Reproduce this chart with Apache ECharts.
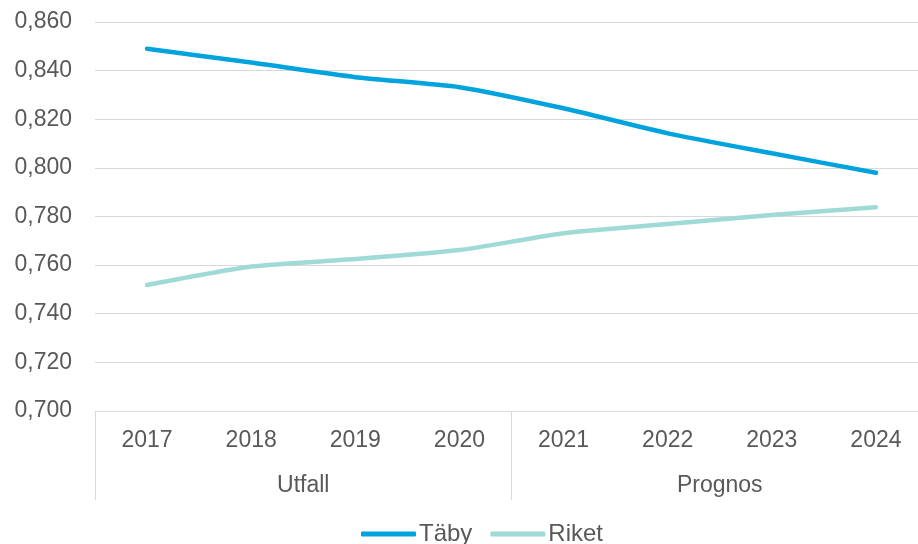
<!DOCTYPE html>
<html>
<head>
<meta charset="utf-8">
<script src="https://cdn.jsdelivr.net/npm/echarts@6/dist/echarts.min.js"></script>
<style>
  html, body { margin: 0; padding: 0; background: #fff; }
  #chart { width: 918px; height: 544px; }
</style>
</head>
<body>
<div id="chart"></div>
<script>
// år på x-axeln
const years = ['2017', '2018', '2019', '2020', '2021', '2022', '2023', '2024']
// grupper under åren
const groups = ['Utfall', 'Prognos']
const tabyValues = [0.849, 0.8433, 0.8373, 0.8332, 0.8245, 0.8142, 0.806, 0.798]
const riketValues = [0.7518, 0.7594, 0.7625, 0.7662, 0.7731, 0.7769, 0.7806, 0.7838]

const textColor = '#595959'
const lineGrey = '#d9d9d9'
const font = 'Liberation Sans, Arial, sans-serif'

const chart = echarts.init(document.getElementById('chart'))
const option = {
  animation: false,
  textStyle: { fontFamily: font },
  grid: {
    left: 95,
    top: 22,
    width: 833,
    height: 389,
    outerBoundsMode: 'none',
    containLabel: false,
  },
  legend: {
    top: 517,
    left: 356,
    icon: 'roundRect',
    itemWidth: 55,
    itemHeight: 5,
    itemGap: 18,
    textStyle: { fontSize: 24, color: textColor, fontFamily: font, padding: [0, 0, 0, -2] },
    data: ['Täby', 'Riket'],
  },
  xAxis: [
    {
      type: 'category',
      position: 'bottom',
      data: years,
      boundaryGap: true,
      axisLine: { show: true, lineStyle: { color: lineGrey, width: 1 } },
      axisTick: { show: false },
      axisLabel: { color: textColor, fontSize: 23, margin: 18 },
    },
    {
      type: 'category',
      position: 'bottom',
      data: groups,
      boundaryGap: true,
      axisLine: { show: false },
      axisTick: { show: true, length: 89, lineStyle: { color: lineGrey, width: 1 } },
      axisLabel: { color: textColor, fontSize: 23, margin: 63 },
    },
  ],
  yAxis: {
    type: 'value',
    min: 0.7,
    max: 0.86,
    interval: 0.02,
    axisLine: { show: false },
    axisTick: { show: false },
    splitLine: { lineStyle: { color: lineGrey, width: 1 } },
    axisLabel: {
      color: textColor,
      fontSize: 23,
      margin: 23,
      formatter: v => v.toFixed(3).replace('.', ','),
    },
  },
  series: [
    {
      name: 'Täby',
      type: 'line',
      xAxisIndex: 0,
      data: tabyValues,
      smooth: 0.2,
      showSymbol: false,
      color: '#00A3DE',
      lineStyle: { width: 4.5, cap: 'round' },
    },
    {
      name: 'Riket',
      type: 'line',
      xAxisIndex: 0,
      data: riketValues,
      smooth: 0.2,
      showSymbol: false,
      color: '#9FDAD6',
      lineStyle: { width: 4.5, cap: 'round' },
    },
  ],
}
chart.setOption(option)
</script>
</body>
</html>
